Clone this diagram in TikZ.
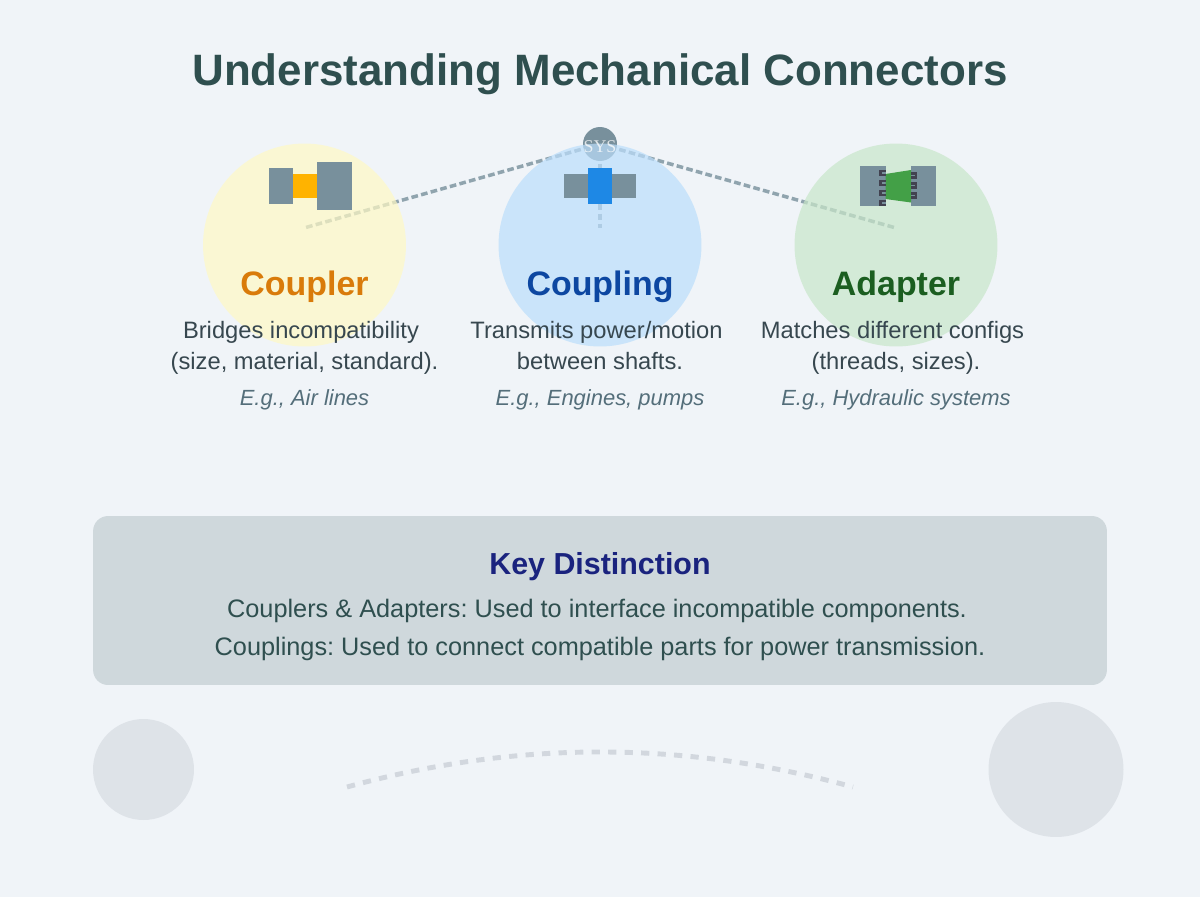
\documentclass[tikz,border=0pt]{standalone}
\usepackage{fontspec}
\setmainfont{Liberation Sans}
\newfontfamily\sysfont{Liberation Serif}
\definecolor{pagebg}{HTML}{F0F4F8}
\definecolor{steel}{HTML}{78909C}
\definecolor{titlecol}{HTML}{2F4F4F}
\definecolor{bodycol}{HTML}{37474F}
\definecolor{notecol}{HTML}{546E7A}
\definecolor{boxcol}{HTML}{CFD8DC}
\definecolor{threadcol}{HTML}{424250}
\definecolor{decocol}{HTML}{828C9A}
\definecolor{yellowdisc}{HTML}{FFF9C4}
\definecolor{bluedisc}{HTML}{BBDEFB}
\definecolor{greendisc}{HTML}{C8E6C9}
\definecolor{couplercol}{HTML}{D97B0A}
\definecolor{couplingcol}{HTML}{0D47A1}
\definecolor{adaptercol}{HTML}{1B5E20}
\definecolor{keycol}{HTML}{1A237E}
\definecolor{amberpart}{HTML}{FFB300}
\definecolor{bluepart}{HTML}{1E88E5}
\definecolor{greenpart}{HTML}{43A047}
\frenchspacing
\begin{document}
\begin{tikzpicture}[x=0.02cm,y=-0.02cm,
heading/.style={
font={\bfseries\fontsize{25pt}{30pt}\selectfont},
text=titlecol,
},
kind/.style={
font={\bfseries\fontsize{19.3pt}{22pt}\selectfont},
},
descr/.style={
font={\fontsize{13.5pt}{17.6pt}\selectfont},
text=bodycol,
align=center,
},
example/.style={
font={\itshape\fontsize{12.5pt}{15pt}\selectfont},
text=notecol,
},
boxtext/.style={
font={\fontsize{14.4pt}{17pt}\selectfont},
text=titlecol,
},
link/.style={
draw=steel,
line width=2pt,
dash pattern=on 3.8pt off 1.87pt,
opacity=.8,
},
disc/.style={
circle,
inner sep=0pt,
minimum size=4.06cm,
opacity=.7,
},
deco/.style={
circle,
inner sep=0pt,
fill=decocol,
opacity=.16,
},
part/.style={
fill=steel,
},
thread/.style={
draw=threadcol,
line width=1.3pt,
},
]
\useasboundingbox(0,0)rectangle(1200,896);
\fill[pagebg](-5,-5)rectangle(1205,901);
\node[heading]at(600,74.5)(title){Understanding Mechanical Connectors};
% hub and its links
\node[circle,fill=steel,inner sep=0pt,minimum size=.68cm]at(600,144)(hub){};
\coordinate(couplerend)at(304,228);
\coordinate(couplingend)at(600,228);
\coordinate(adapterend)at(896,228);
\draw[link](hub.center)--(couplerend);
\draw[link](hub.center)--(couplingend);
\draw[link](hub.center)--(adapterend);
% discs
\node[disc,fill=yellowdisc]at(304.5,245)(couplerdisc){};
\node[disc,fill=bluedisc]at(600,245)(couplingdisc){};
\node[disc,fill=greendisc]at(896,245)(adapterdisc){};
\node[text=white,font={\sysfont\fontsize{10.2pt}{12pt}\selectfont},opacity=.75]at(600,147)(hublabel){SYS};
% coupler
\fill[part](268.5,168)rectangle(292.5,204);
\fill[part](316.5,162)rectangle(352,210);
\fill[amberpart](292.5,174)rectangle(316.5,198);
% coupling
\fill[part](564,174)rectangle(636,198);
\fill[bluepart](588,168)rectangle(612,204);
% adapter
\fill[part](860,166)rectangle(885.5,206);
\fill[part](911,166)rectangle(936,206);
\fill[greenpart](885.5,174)--(911,170)--(911,202.5)--(885.5,199)--cycle;
\foreach \y in {171,181,191,201}{
\draw[thread](885.5,\y)--(880.5,\y)--(880.5,\y+4)--(885.5,\y+4);
}
\foreach \y in {173.5,183.5,193.5}{
\draw[thread](911,\y)--(916,\y)--(916,\y+4)--(911,\y+4);
}
% labels
\node[kind,text=couplercol]at(304.5,287)(couplername){Coupler};
\node[kind,text=couplingcol]at(600,287)(couplingname){Coupling};
\node[kind,text=adaptercol]at(896,287)(adaptername){Adapter};
\node[descr]at(304.5,348)(couplertext){Bridges incompatibility\hspace*{.14cm}\\(size, material, standard).};
\node[descr]at(600,345.6)(couplingtext){Transmits power/motion\hspace*{.14cm}\\between shafts.};
\node[descr]at(896,348)(adaptertext){Matches different configs\hspace*{.14cm}\\(threads, sizes).};
\node[example]at(304.5,400)(couplernote){E.g., Air lines};
\node[example]at(600,400)(couplingnote){E.g., Engines, pumps};
\node[example]at(896,400)(adapternote){E.g., Hydraulic systems};
% key box
\node[fill=boxcol,rounded corners=.3cm,inner sep=0pt,minimum width=20.28cm,minimum height=3.38cm]at(600,600.5)(keybox){};
\node[font={\bfseries\fontsize{17.3pt}{20pt}\selectfont},text=keycol]at(600,567)(keytitle){Key Distinction};
\node[boxtext]at(597,611)(keyone){Couplers \& Adapters: Used to interface incompatible components.};
\node[boxtext]at(600,649)(keytwo){Couplings: Used to connect compatible parts for power transmission.};
% decoration
\node[deco,minimum size=2.02cm]at(143.5,769.5)(leftdeco){};
\node[deco,minimum size=2.7cm]at(1056,769.5)(rightdeco){};
\coordinate(arcstart)at(347,787);
\coordinate(arcend)at(853,787);
\draw[draw=decocol,opacity=.27,line width=2.8pt,dash pattern=on 4.7pt off 4.7pt](arcstart)..controls(515.7,740.3)and(684.3,740.3)..(arcend);
\end{tikzpicture}
\end{document}
